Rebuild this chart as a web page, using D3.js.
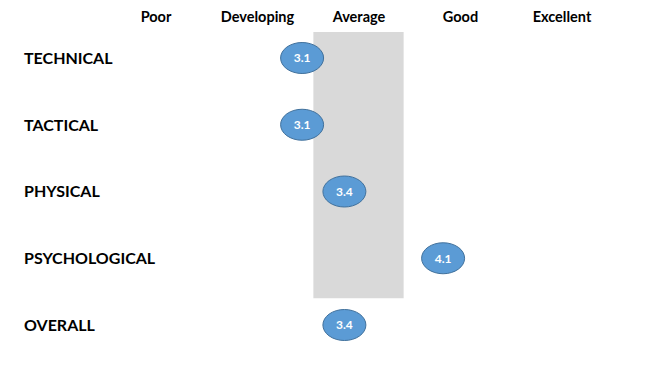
<!DOCTYPE html>
<html><head><meta charset="utf-8">
<script src="https://cdn.jsdelivr.net/npm/d3@7"></script>
<style>body{margin:0;background:#fff}svg{display:block}</style>
</head><body>
<script>
const categories = ["TECHNICAL", "TACTICAL", "PHYSICAL", "PSYCHOLOGICAL", "OVERALL"];
const scores = [3.1, 3.1, 3.4, 4.1, 3.4];
const levels = ["Poor", "Developing", "Average", "Good", "Excellent"];
const averageBand = [3.18, 3.82];

const W = 650, H = 381;
const svg = d3.select("body").append("svg").attr("width", W).attr("height", H);
const font = "Lato, 'Open Sans', sans-serif";

const x = d3.scaleLinear().domain([3, 4]).range([288, 429]);
const xHead = d3.scalePoint().domain(levels).range([156, 562]);
const y = d3.scalePoint().domain(categories).range([58, 325]);

// average band
const bandTop = y(categories[0]) - 26, bandBottom = y("PSYCHOLOGICAL") + 40;
svg.append("rect")
  .attr("x", x(averageBand[0])).attr("width", x(averageBand[1]) - x(averageBand[0]))
  .attr("y", bandTop).attr("height", bandBottom - bandTop)
  .attr("fill", "#d9d9d9");

// headers
svg.selectAll("text.head").data(levels).join("text")
  .attr("class", "head")
  .attr("x", d => xHead(d)).attr("y", 22)
  .attr("text-anchor", "middle")
  .attr("font-family", font).attr("font-weight", 700).attr("font-size", 14.5)
  .attr("fill", "#000")
  .text(d => d);

// row labels
svg.selectAll("text.cat").data(categories).join("text")
  .attr("class", "cat")
  .attr("x", 24).attr("y", d => y(d)).attr("dy", "0.36em")
  .attr("font-family", font).attr("font-weight", 700).attr("font-size", 16)
  .attr("fill", "#000")
  .text(d => d);

const pts = svg.selectAll("g.pt").data(categories.map((c, i) => ({c, v: scores[i]}))).join("g")
  .attr("class", "pt")
  .attr("transform", d => `translate(${x(d.v)},${y(d.c)})`);
pts.append("ellipse").attr("rx", 21.5).attr("ry", 15.5)
  .attr("fill", "#5b9bd5").attr("stroke", "#41719c").attr("stroke-width", 1);
pts.append("text").attr("text-anchor", "middle").attr("dy", "0.36em")
  .attr("font-family", font).attr("font-weight", 700).attr("font-size", 12).attr("fill", "#fff")
  .text(d => d.v.toFixed(1));
</script>
</body></html>
